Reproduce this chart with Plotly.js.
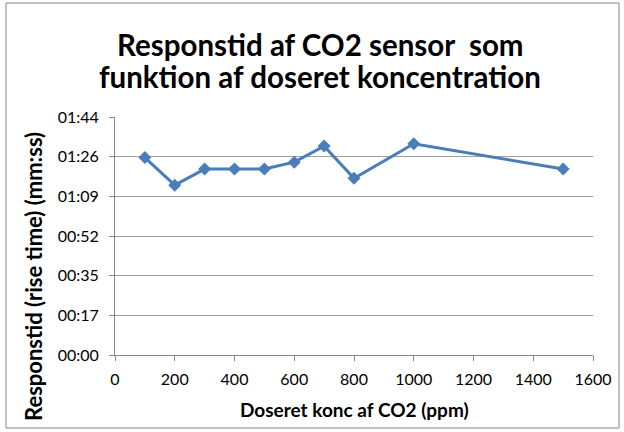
<!DOCTYPE html>
<html>
<head>
<meta charset="utf-8">
<script src="https://cdn.plot.ly/plotly-3.0.1.min.js"></script>
<style>
html,body{margin:0;padding:0;background:#fff;}
#chart{width:624px;height:432px;}
</style>
</head>
<body>
<div id="chart"></div>
<script>
// Data (x: dosed CO2 concentration in ppm, y: rise time in seconds)
var concentrations = [100, 200, 300, 400, 500, 600, 700, 800, 1000, 1500];
var riseTimeSeconds = [86, 74, 81, 81, 81, 84, 91, 77, 92, 81];
var yTickValues = [0, 17.28, 34.56, 51.84, 69.12, 86.4, 103.68];
var yTickLabels = ["00:00", "00:17", "00:35", "00:52", "01:09", "01:26", "01:44"];
var xTickValues = [0, 200, 400, 600, 800, 1000, 1200, 1400, 1600];
var titleLines = ["Responstid af CO2 sensor  som", "funktion af doseret koncentration"];
var xTitle = "Doseret konc af CO2 (ppm)";
var yTitle = "Responstid (rise time) (mm:ss)";

var fontFam = "Lato, Liberation Sans, Arial, sans-serif";

// plot area in pixels
var L = 115, R = 593, T = 117, B = 355;
function px(x) { return (x - L) / (R - L); }
function py(y) { return (B - y) / (B - T); }

var trace = {
  x: concentrations,
  y: riseTimeSeconds,
  type: "scatter",
  mode: "lines+markers",
  line: {color: "#4a7ebb", width: 3},
  marker: {symbol: "diamond", size: 10, color: "#4a7ebb"},
  hoverinfo: "skip"
};

var layout = {
  width: 624,
  height: 432,
  margin: {l: L, r: 624 - R, t: T, b: 432 - B},
  paper_bgcolor: "#ffffff",
  plot_bgcolor: "#ffffff",
  showlegend: false,
  xaxis: {
    range: [0, 1600],
    tickvals: xTickValues,
    ticktext: xTickValues.map(String),
    showgrid: false,
    zeroline: false,
    showline: true,
    linecolor: "#868686",
    linewidth: 1,
    ticks: "outside",
    ticklen: 5,
    tickcolor: "#868686",
    ticklabelstandoff: 5,
    tickfont: {family: fontFam, size: 16, color: "#000000"},
    fixedrange: true
  },
  yaxis: {
    range: [0, 103.68],
    tickvals: yTickValues,
    ticktext: yTickLabels,
    showgrid: true,
    gridcolor: "#a0a0a0",
    gridwidth: 1,
    zeroline: false,
    showline: true,
    linecolor: "#868686",
    linewidth: 1,
    ticks: "outside",
    ticklen: 5,
    tickcolor: "#868686",
    ticklabelstandoff: 7,
    tickfont: {family: fontFam, size: 16, color: "#000000"},
    fixedrange: true
  },
  annotations: [
    {
      text: "<b>" + titleLines[0] + "</b>",
      xref: "paper", yref: "paper",
      x: px(320), y: py(45),
      xanchor: "center", yanchor: "middle",
      showarrow: false,
      font: {family: fontFam, size: 29.5, color: "#000000"}
    },
    {
      text: "<b>" + titleLines[1] + "</b>",
      xref: "paper", yref: "paper",
      x: px(320), y: py(77),
      xanchor: "center", yanchor: "middle",
      showarrow: false,
      font: {family: fontFam, size: 29.5, color: "#000000"}
    },
    {
      text: "<b>" + xTitle + "</b>",
      xref: "paper", yref: "paper",
      x: px(354), y: py(409),
      xanchor: "center", yanchor: "middle",
      showarrow: false,
      font: {family: fontFam, size: 19, color: "#000000"}
    },
    {
      text: "<b>" + yTitle + "</b>",
      xref: "paper", yref: "paper",
      x: px(33), y: py(277),
      xanchor: "center", yanchor: "middle",
      textangle: -90,
      showarrow: false,
      font: {family: fontFam, size: 22, color: "#000000"}
    }
  ],
  shapes: [{
    type: "rect", xref: "paper", yref: "paper",
    x0: px(6), x1: px(619),
    y0: py(428), y1: py(3),
    line: {color: "#868686", width: 1},
    fillcolor: "rgba(0,0,0,0)",
    layer: "below"
  }]
};

Plotly.newPlot("chart", [trace], layout, {displayModeBar: false, staticPlot: true});
</script>
</body>
</html>
